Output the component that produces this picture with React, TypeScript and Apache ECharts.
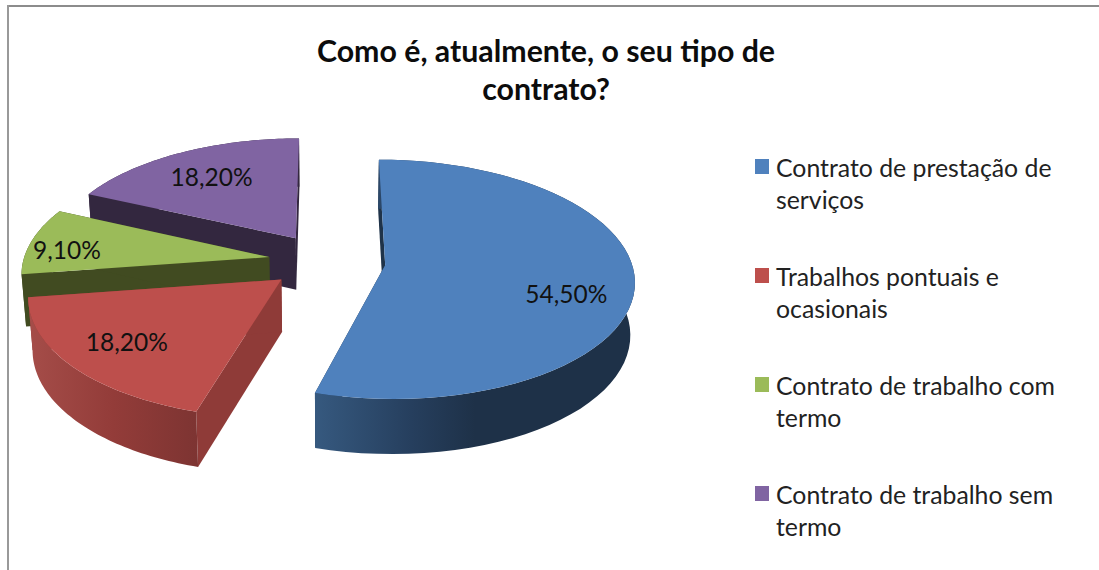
import React, { useEffect, useRef } from "react";
import * as echarts from "echarts";

const categories = [
  "Contrato de prestação de\nserviços",
  "Trabalhos pontuais e\nocasionais",
  "Contrato de trabalho com\ntermo",
  "Contrato de trabalho sem\ntermo",
];
const values = [54.5, 18.2, 9.1, 18.2];
const topColors = ["#4f81bd", "#bd4f4c", "#9bbb59", "#8064a2"];
const edgeColors = ["#1f3349", "#8f3b38", "#414b21", "#33273f"];
const rimStops: [number, string][][] = [
  [[0, "#36597f"], [0.3, "#263f5e"], [0.5, "#1e3148"], [1, "#1e3148"]],
  [[0, "#a54d49"], [0.5, "#933c39"], [1, "#7d3432"]],
  [[0, "#414b21"], [1, "#414b21"]],
  [[0, "#33273f"], [1, "#33273f"]],
];
const labelRadius = [0.745, 0.746, 0.836, 0.71];
const labelTurn = [10.6, 0.8, -3.7, 0];
const sliceShift = [0.004, -0.002, 0, 0];
const drawOrder = [3, 2, 1, 0];

const CX = 326.5, CY = 261, RX = 246, RY = 117, PERSPECTIVE = 0.12, EXPLODE = 0.236;
const STEPS = 60;

const total = values.reduce((a, b) => a + b, 0);

function project(x: number, y: number, z: number): number[] {
  const s = 1 / (1 + PERSPECTIVE * y);
  return [CX + RX * x * s * (1 - 0.015 * z), CY - RY * y * s + z * (52 - 3 * y)];
}

function sliceAngles(i: number) {
  const before = values.slice(0, i).reduce((a, b) => a + b, 0);
  const start = (before / total) * Math.PI * 2;
  const end = ((before + values[i]) / total) * Math.PI * 2;
  return { start, end, mid: (start + end) / 2 };
}

function renderSlice(i: number) {
  const { start, end, mid } = sliceAngles(i);
  const tx = EXPLODE * Math.sin(mid) + sliceShift[i];
  const ty = EXPLODE * Math.cos(mid);
  const rim = (z: number) => {
    const pts: number[][] = [];
    for (let s = 0; s <= STEPS; s++) {
      const a = start + ((end - start) * s) / STEPS;
      pts.push(project(tx + Math.sin(a), ty + Math.cos(a), z));
    }
    return pts;
  };
  const top = rim(0);
  const bottom = rim(1);
  const tipTop = project(tx, ty, 0);
  const tipBottom = project(tx, ty, 1);
  const poly = (points: number[][], fill: any) => ({
    type: "polygon",
    silent: true,
    shape: { points },
    style: { fill },
  });
  const la = mid + (labelTurn[i] * Math.PI) / 180;
  const lp = project(
    tx + labelRadius[i] * Math.sin(la),
    ty + labelRadius[i] * Math.cos(la),
    0
  );
  return {
    type: "group",
    children: [
      poly([tipTop, top[0], bottom[0], tipBottom], edgeColors[i]),
      poly([tipTop, top[STEPS], bottom[STEPS], tipBottom], edgeColors[i]),
      poly(
        [...top, ...bottom.slice().reverse()],
        new echarts.graphic.LinearGradient(
          0, 0, 1, 0,
          rimStops[i].map(([offset, color]) => ({ offset, color }))
        )
      ),
      poly([tipTop, ...top], topColors[i]),
      {
        type: "text",
        x: lp[0],
        y: lp[1],
        style: {
          text: values[i].toFixed(2).replace(".", ",") + "%",
          fill: "#111111",
          font: '24.5px Lato, "Noto Sans", sans-serif',
          align: "center",
          verticalAlign: "middle",
        },
      },
    ],
  };
}

const LEGEND_ICON = "path://M16 0L16 0ZM0 8H14V23H0ZM0 64L0 64Z";

export default function App() {
  const ref = useRef<HTMLDivElement>(null);
  useEffect(() => {
    const chart = echarts.init(ref.current!, null, { renderer: "svg" });
    chart.setOption({
      animation: false,
      backgroundColor: "#ffffff",
      title: {
        text: "Como é, atualmente, o seu tipo de\ncontrato?",
        left: 541,
        top: 26,
        textAlign: "center",
        textStyle: {
          fontFamily: 'Lato, "Noto Sans", sans-serif',
          fontSize: 30.3,
          fontWeight: "bold",
          color: "#0c0c0c",
          lineHeight: 38,
        },
      },
      legend: {
        orient: "vertical",
        left: 750,
        top: 146,
        itemWidth: 16,
        itemHeight: 64,
        itemGap: 45,
        selectedMode: false,
        icon: LEGEND_ICON,
        data: categories,
        textStyle: {
          fontFamily: 'Lato, "Noto Sans", sans-serif',
          fontSize: 24.8,
          color: "#222222",
          lineHeight: 32,
        },
      },
      graphic: [
        { type: "line", silent: true, shape: { x1: 7, y1: 6, x2: 1099, y2: 6 }, style: { stroke: "#8c8c8c", lineWidth: 2 } },
        { type: "line", silent: true, shape: { x1: 8, y1: 5, x2: 8, y2: 570 }, style: { stroke: "#999999", lineWidth: 2 } },
      ],
      series: drawOrder.map((i) => ({
        type: "custom",
        name: categories[i],
        coordinateSystem: "none",
        itemStyle: { color: topColors[i] },
        data: [values[i]],
        renderItem: () => renderSlice(i),
      })),
    });
    return () => chart.dispose();
  }, []);
  return (
    <div
      ref={ref}
      style={{ position: "absolute", left: 0, top: 0, width: 1099, height: 570 }}
    />
  );
}
